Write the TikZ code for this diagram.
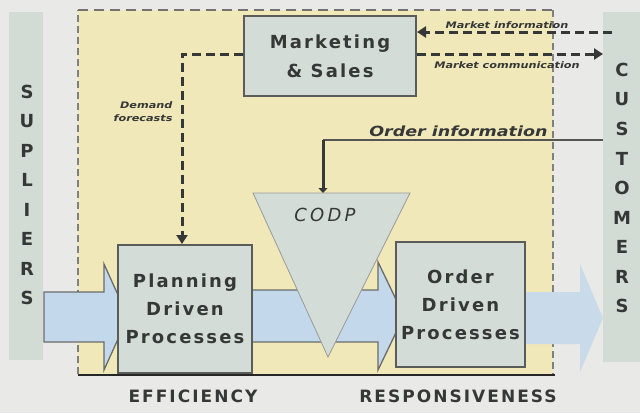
\documentclass[tikz,border=0pt]{standalone}
\usepackage{fontspec}
\setmainfont{DejaVu Sans}
\newfontfamily\spaced[LetterSpace=12]{DejaVu Sans}
\newfontfamily\wider[LetterSpace=18]{DejaVu Sans}
\usetikzlibrary{arrows.meta}

\definecolor{canvas}{HTML}{E9E9E7}
\definecolor{barfill}{HTML}{D3DBD5}
\definecolor{zone}{HTML}{F0E8B8}
\definecolor{boxfill}{HTML}{D4DCD8}
\definecolor{boxedge}{HTML}{5A5C5A}
\definecolor{flowblue}{HTML}{C3D8EA}
\definecolor{flowedge}{HTML}{6A6C6C}
\definecolor{ink}{HTML}{363838}

\tikzset{
  proc/.style={draw=boxedge, line width=2pt, fill=boxfill, align=center, text=ink,
    inner sep=0pt, font=\spaced\bfseries\fontsize{18}{28}\selectfont},
  sideletter/.style={text=ink, font=\bfseries\fontsize{18}{18}\selectfont},
  info/.style={draw=ink, line width=3pt, dash pattern=on 9pt off 5pt,
    -{Triangle[length=9pt,width=11pt]}},
  tag/.style={text=ink, font=\bfseries\itshape\fontsize{9}{13}\selectfont,
    xscale=1.25, inner sep=1pt, align=right},
  flow/.style={fill=flowblue, draw=flowedge, line width=1.3pt},
  axislabel/.style={text=ink, font=\spaced\bfseries\fontsize{17}{17}\selectfont},
}

\begin{document}
\begin{tikzpicture}[x=1pt,y=-1pt]
\useasboundingbox (0,0) rectangle (640,413);
\fill[canvas] (0,0) rectangle (640,413);

% suppliers and customers
\fill[barfill] (9,12) rectangle (43,360);
\fill[barfill] (603,12) rectangle (640,362);
\foreach \l [count=\i] in {S,U,P,L,I,E,R,S}
  \node[sideletter] (sup\i) at (27,{62+29.5*\i}) {\l};
\foreach \l [count=\i] in {C,U,S,T,O,M,E,R,S}
  \node[sideletter] (cus\i) at (622,{40.5+29.5*\i}) {\l};

% company zone
\fill[zone] (78,10) rectangle (553,374);
\draw[gray, line width=1.2pt, dash pattern=on 7pt off 4pt] (78,374) -- (78,10);
\draw[gray!90!black, line width=1.6pt, dash pattern=on 10pt off 6pt] (78,10) -- (553,10);
\draw[gray, line width=1.2pt, dash pattern=on 7pt off 4pt] (553,10) -- (553,374);
\draw[black!85, line width=2.5pt] (78,375) -- (555,375);

% material flow
\filldraw[flow] (44,292) -- (104,292) -- (104,264) -- (128,317) -- (104,370)
  -- (104,342) -- (44,342) -- cycle;
\filldraw[flow] (252,290) -- (378,290) -- (378,262) -- (404,316) -- (378,370)
  -- (378,342) -- (252,342) -- cycle;
\fill[flowblue!85!canvas] (525,292) -- (580,292) -- (580,264) -- (603,318)
  -- (580,372) -- (580,344) -- (525,344) -- cycle;

% decoupling point
\coordinate (codpL) at (253,193);
\coordinate (codpR) at (410,193);
\coordinate (codpB) at (328,357);
\coordinate (codptop) at (323,193);
\filldraw[fill=boxfill, draw=gray!80, line width=0.8pt] (codpL) -- (codpR) -- (codpB) -- cycle;
\node[text=ink, font=\wider\itshape\fontsize{18}{18}\selectfont] (codp) at (325,215) {CODP};

% processes
\node[proc, minimum width=134pt, minimum height=128pt] (plan) at (185,309)
  {Planning\\Driven\\Processes};
\node[proc, minimum width=129pt, minimum height=125pt] (ord) at (460.5,304.5)
  {Order\\Driven\\Processes};
\node[proc, minimum width=172pt, minimum height=80pt,
  font=\spaced\bfseries\fontsize{18}{29}\selectfont] (mkt) at (330,56)
  {Marketing\\\& Sales};

% information flows
\coordinate (df) at (182,54);
\coordinate (mi) at (612,32);
\coordinate (mc) at (603,54);
\coordinate (oi) at (603,140);
\draw[info] (df -| mkt.west) -- (df) -- (df |- plan.north);
\draw[info] (mi) -- (mi -| mkt.east);
\draw[info] (mc -| mkt.east) -- (mc);
\draw[ink!85, line width=2pt] (oi) -- (oi -| codptop);
\draw[ink, line width=3pt, -{Triangle[length=5pt,width=9pt]}] (oi -| codptop) -- (codptop);

\node[tag, anchor=east] (dflabel) at (174,112) {Demand\\forecasts};
\node[tag] (milabel) at (507,25) {Market information};
\node[tag] (mclabel) at (507,65) {Market communication};
\node[tag, font=\bfseries\itshape\fontsize{14}{14}\selectfont, xscale=1, anchor=south east]
  (oilabel) at (549,138) {Order information};

% axis
\node[axislabel] (eff) at (193,396) {EFFICIENCY};
\node[axislabel] (resp) at (458,396) {RESPONSIVENESS};
\end{tikzpicture}
\end{document}
